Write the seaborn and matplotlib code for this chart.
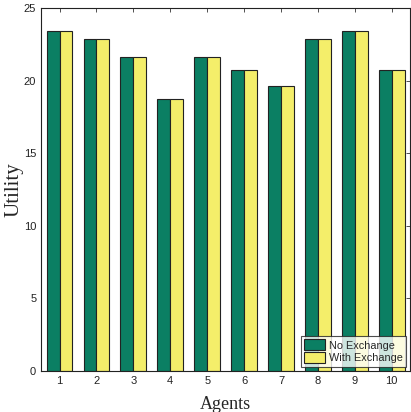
import numpy as np
import pandas as pd
import matplotlib
matplotlib.use('Agg')
import matplotlib.pyplot as plt
import seaborn as sns

# vrijednosti ocitane sa slike
agents = [1, 2, 3, 4, 5, 6, 7, 8, 9, 10]
no_exchange = [23.4, 22.9, 21.6, 18.75, 21.6, 20.75, 19.6, 22.9, 23.4, 20.75]
with_exchange = [23.4, 22.9, 21.6, 18.75, 21.6, 20.75, 19.6, 22.9, 23.4, 20.75]
series = ['No Exchange', 'With Exchange']
colors = ['#0b7f63', '#f4ee6a']

df = pd.DataFrame({
    'Agent': agents * 2,
    'Utility': no_exchange + with_exchange,
    'Series': [series[0]] * len(agents) + [series[1]] * len(agents),
})

sns.set_style('white')
plt.rcParams['font.family'] = ['Liberation Sans', 'DejaVu Sans']

fig = plt.figure(figsize=(4.11, 4.12), dpi=100)
ax = fig.add_axes([0.1, 0.0995, 0.898, 0.881])

sns.barplot(data=df, x='Agent', y='Utility', hue='Series', palette=colors,
            width=0.7, gap=0, edgecolor='#222222', linewidth=0.8,
            saturation=1, ax=ax)

ax.set_xlim(-0.5, 9.5)
ax.set_ylim(0, 25)
ax.set_yticks([0, 5, 10, 15, 20, 25])
ax.tick_params(direction='in', top=True, right=True, labelsize=8,
               length=3, width=0.6, colors='#333333', labelcolor='#222222')
for s in ax.spines.values():
    s.set_visible(True)
    s.set_color('#222222')
    s.set_linewidth(0.8)

ax.set_xlabel('Agents', family='Liberation Serif', fontsize=13, labelpad=7)
ax.set_ylabel('Utility', family='Liberation Serif', fontsize=15, labelpad=0)

leg = ax.legend(loc='lower right', fontsize=7.8, frameon=True, fancybox=False,
                borderaxespad=0.4, handlelength=2.0, handleheight=1.2,
                labelspacing=0.15, borderpad=0.3, handletextpad=0.3)
leg.get_frame().set_edgecolor('#222222')
leg.get_frame().set_linewidth(0.8)

fig.savefig('out.png', dpi=100)
